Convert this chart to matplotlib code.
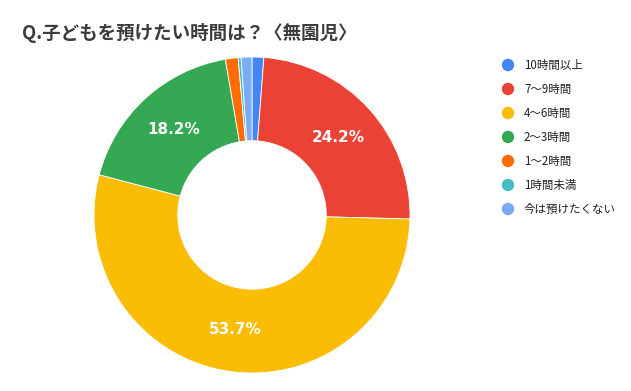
import matplotlib.pyplot as plt
from matplotlib.patches import Ellipse

plt.rcParams['font.family'] = ['Noto Sans CJK JP', 'DejaVu Sans']

title = "Q.子どもを預けたい時間は？〈無園児〉"
categories = ["10時間以上", "7〜9時間", "4〜6時間", "2〜3時間", "1〜2時間", "1時間未満", "今は預けたくない"]
values = [1.2, 24.2, 53.7, 18.2, 1.3, 0.3, 1.1]
colors = ["#4285F4", "#EA4335", "#FBBC04", "#34A853", "#FF6D01", "#46BDC6", "#7BAAF7"]

W, H = 631, 391
fig = plt.figure(figsize=(W / 100, H / 100), dpi=100)

# donut centre (252, 215) px, radius 158 px
cx, cy, r = 252, 215, 158
ax = fig.add_axes([(cx - r) / W, (H - cy - r) / H, 2 * r / W, 2 * r / H])
wedges, texts, autotexts = ax.pie(
    values, colors=colors, startangle=90, counterclock=False, radius=1,
    wedgeprops=dict(width=0.53, edgecolor='white', linewidth=0.6),
    autopct=lambda p: f"{p:.1f}%" if p > 5 else "", pctdistance=0.735,
    textprops=dict(color='white', fontsize=11, fontweight='bold', family='DejaVu Sans'))
ax.set_xlim(-1, 1)
ax.set_ylim(-1, 1)
ax.set_aspect('equal')
ax.axis('off')

fig.text(22 / W, 1 - 33 / H, title, fontsize=13.3, fontweight='bold', color='#3c3c3c',
         va='center', ha='left')

# legend
for i, (lab, col) in enumerate(zip(categories, colors)):
    y = 1 - (65 + 24 * i) / H
    fig.patches.append(Ellipse((508 / W, y), 11 / W, 11 / H, transform=fig.transFigure,
                               color=col, clip_on=False))
    fig.text(524 / W, y, lab, fontsize=8.3, color='#222222', va='center', ha='left')

fig.savefig("out.png", dpi=100)
